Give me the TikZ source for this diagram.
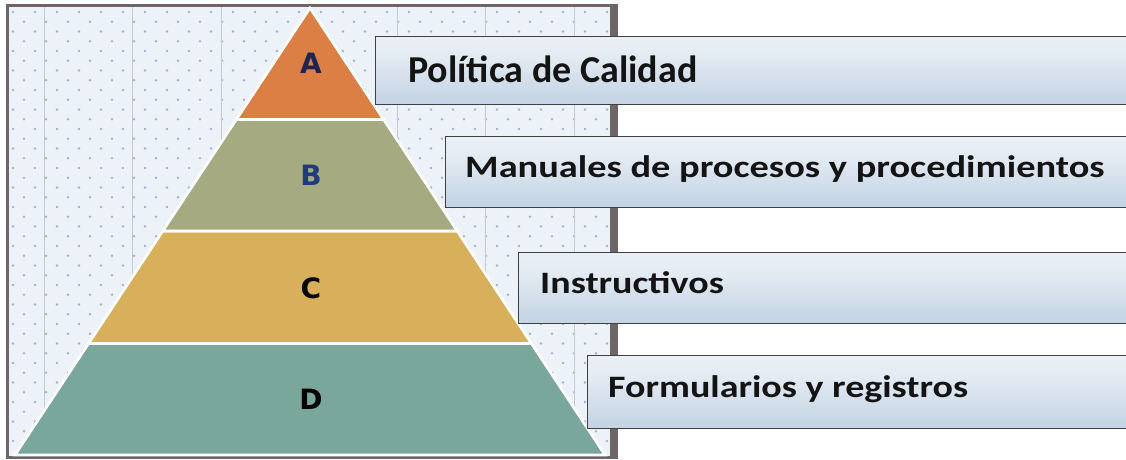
\documentclass[tikz,border=0pt]{standalone}
\usepackage{fontspec}
\setmainfont{Carlito}
\newfontfamily\letterfont{DejaVu Sans}
\definecolor{framec}{HTML}{6E6566}
\definecolor{bgc}{HTML}{EDF1F8}
\definecolor{dotc}{HTML}{9DB4D4}
\definecolor{gridc}{HTML}{C3CAD6}
\definecolor{layA}{HTML}{DC7F45}
\definecolor{layB}{HTML}{A5AA80}
\definecolor{layC}{HTML}{D8B05B}
\definecolor{layD}{HTML}{7AA79B}
\definecolor{navyA}{HTML}{1C2653}
\definecolor{navyB}{HTML}{203C7A}
\definecolor{sb0}{HTML}{DCE5EF}
\definecolor{sb1}{HTML}{C6D5E5}
\definecolor{sb2}{HTML}{E3EAF2}
\definecolor{sb3}{HTML}{F7F9FB}
\pgfdeclareverticalshading{boxshade}{100bp}{color(0bp)=(sb0); color(8bp)=(sb1); color(30bp)=(sb1); color(60bp)=(sb2); color(100bp)=(sb3)}
\begin{document}
\begin{tikzpicture}[x=1pt,y=-1pt,
  lbox/.style={draw=black!75, line width=1.4pt, shading=boxshade, rectangle, inner sep=0pt, anchor=north west},
  ltext/.style={anchor=base west, inner sep=0pt, font=\fontsize{38}{40}\selectfont\bfseries, text=black!92},
  letter/.style={anchor=base, inner sep=0pt, font=\letterfont\fontsize{28}{30}\selectfont\bfseries},
  layer/.style={draw=white, line width=2.6pt, line join=miter}]
\useasboundingbox (0,0) rectangle (1126,460);
% frame
\fill[framec] (6,4) rectangle (618,459);
\fill[bgc] (9,7) rectangle (610,456);
\begin{scope}
  \clip (9,7) rectangle (610,456);
  \foreach \k in {0,...,46} {
    \pgfmathsetmacro\yy{12+9.75*\k}
    \pgfmathsetmacro\xo{ifthenelse(mod(\k,2)==0,13,24)}
    \foreach \i in {0,...,27} {
      \fill[dotc] (\xo+22*\i,\yy) circle (1.4);
    }
  }
  \foreach \gx in {44,132.5,221,309,397,485.5,574} {
    \draw[gridc, line width=0.8pt] (\gx,7) -- (\gx,456);
  }
\end{scope}
% pyramid
\filldraw[layer, fill=layD] (88.6,343.5) -- (531.4,343.5) -- (605,455) -- (15,455) -- cycle;
\filldraw[layer, fill=layC] (162.8,231) -- (457.2,231) -- (531.4,343.5) -- (88.6,343.5) -- cycle;
\filldraw[layer, fill=layB] (236.4,119.5) -- (383.6,119.5) -- (457.2,231) -- (162.8,231) -- cycle;
\filldraw[layer, fill=layA] (310,8) -- (383.6,119.5) -- (236.4,119.5) -- cycle;
\node[letter, text=navyA] (la) at (311,74) {A};
\node[letter, text=navyB] (lb) at (311,185) {B};
\node[letter, text=black] (lc) at (311,298) {C};
\node[letter, text=black] (ld) at (311,409) {D};
% label boxes
\node[lbox, minimum width=770pt, minimum height=68pt] (b1) at (375,36) {};
\node[lbox, minimum width=700pt, minimum height=71pt] (b2) at (445,136) {};
\node[lbox, minimum width=630pt, minimum height=71pt] (b3) at (518,252) {};
\node[lbox, minimum width=560pt, minimum height=73pt] (b4) at (587,355) {};
\node[ltext] (t1) at (408,82) {Política de Calidad};
\node[ltext] (t2) at (465,177) {\scalebox{1.01}[0.82]{Manuales de procesos y procedimientos}};
\node[ltext] (t3) at (540,293) {\scalebox{1}[0.82]{Instructivos}};
\node[ltext] (t4) at (608,397) {\scalebox{1}[0.82]{Formularios y registros}};
\end{tikzpicture}
\end{document}
